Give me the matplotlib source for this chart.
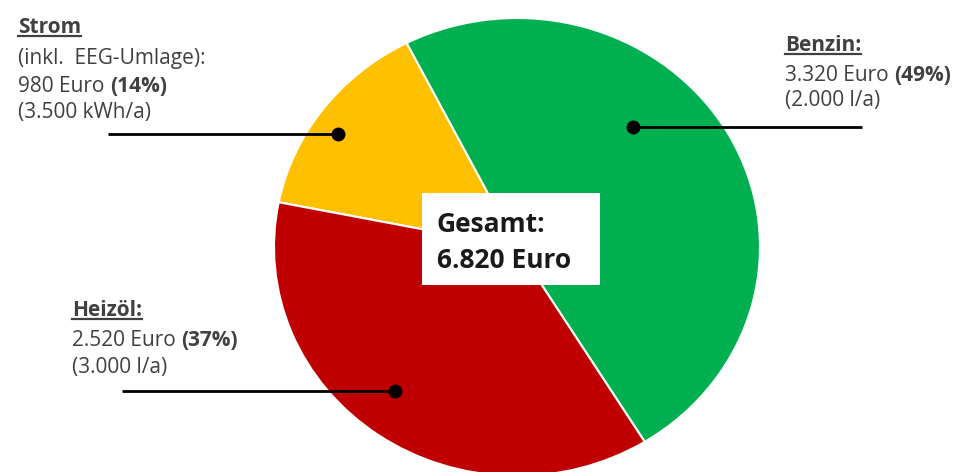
import matplotlib.pyplot as plt

plt.rcParams['font.family'] = ['Open Sans', 'DejaVu Sans']

# data
sources = ['Strom', 'Heizöl', 'Benzin']
costs = [980, 2520, 3320]          # Euro per year
shares = ['14%', '37%', '49%']
amounts = ['(3.500 kWh/a)', '(3.000 l/a)', '(2.000 l/a)']
colors = ['#FFC000', '#C00000', '#00B050']
total = sum(costs)

def euro(v):
    return f'{v:,}'.replace(',', '.') + ' Euro'

fig = plt.figure(figsize=(9.62, 4.72), dpi=100)

# pie, slightly wider than high like the original picture
cx, cy, rx, ry = 517, 247, 243, 229
ax = fig.add_axes([(cx - rx) / 962, (472 - cy - ry) / 472, 2 * rx / 962, 2 * ry / 472])
ax.pie(costs, colors=colors, startangle=117, counterclock=True,
       wedgeprops=dict(edgecolor='white', linewidth=1.5))
ax.set_aspect('auto')
ax.set_xlim(-1, 1)
ax.set_ylim(-1, 1)

# overlay in pixel coordinates for the labels
ov = fig.add_axes([0, 0, 1, 1], zorder=5)
ov.set_xlim(0, 962)
ov.set_ylim(472, 0)
ov.axis('off')
ov.patch.set_alpha(0)

txt = '#404040'
fs = 15

# leader lines with dots (x0, x1, y)
leaders = [(108, 338, 134), (122, 395, 391), (633, 862, 127)]
for x0, x1, y in leaders:
    ov.plot([x0, x1], [y, y], color='black', lw=2, solid_capstyle='butt')
dots = [(338, 134), (395, 391), (633, 127)]
for x, y in dots:
    ov.plot(x, y, 'o', color='black', ms=9)

fig.canvas.draw()
r = fig.canvas.get_renderer()

def line(x, y, s, bold_part=None, weight='normal'):
    t = ov.text(x, y, s, fontsize=fs, color=txt, va='baseline', ha='left', fontweight=weight)
    if bold_part:
        ov.annotate(bold_part, xy=(1, 0), xycoords=t, va='bottom', ha='left',
                    fontsize=fs, color=txt, fontweight='bold')
    return t

def title(x, y, s):
    t = line(x, y, s, weight='bold')
    bb = t.get_window_extent(r)
    ov.plot([bb.x0, bb.x1], [y + 3, y + 3], color=txt, lw=1.6)

# Strom
title(18, 33, 'Strom')
line(18, 64, '(inkl.  EEG-Umlage):')
line(18, 92, euro(costs[0]) + ' ', '(' + shares[0] + ')')
line(18, 118, amounts[0])

# Heizöl
title(72, 316, 'Heizöl:')
line(72, 346, euro(costs[1]) + ' ', '(' + shares[1] + ')')
line(72, 373, amounts[1])

# Benzin
title(785, 51, 'Benzin:')
line(785, 81, euro(costs[2]) + ' ', '(' + shares[2] + ')')
line(785, 106, amounts[2])

# total box
ov.add_patch(plt.Rectangle((422, 193), 178, 92, facecolor='white', edgecolor='none'))
ov.text(437, 232, 'Gesamt:', fontsize=19, fontweight='bold', color='#1a1a1a', va='baseline')
ov.text(437, 268, euro(total), fontsize=19, fontweight='bold', color='#1a1a1a', va='baseline')

fig.savefig('out.png', dpi=100)
